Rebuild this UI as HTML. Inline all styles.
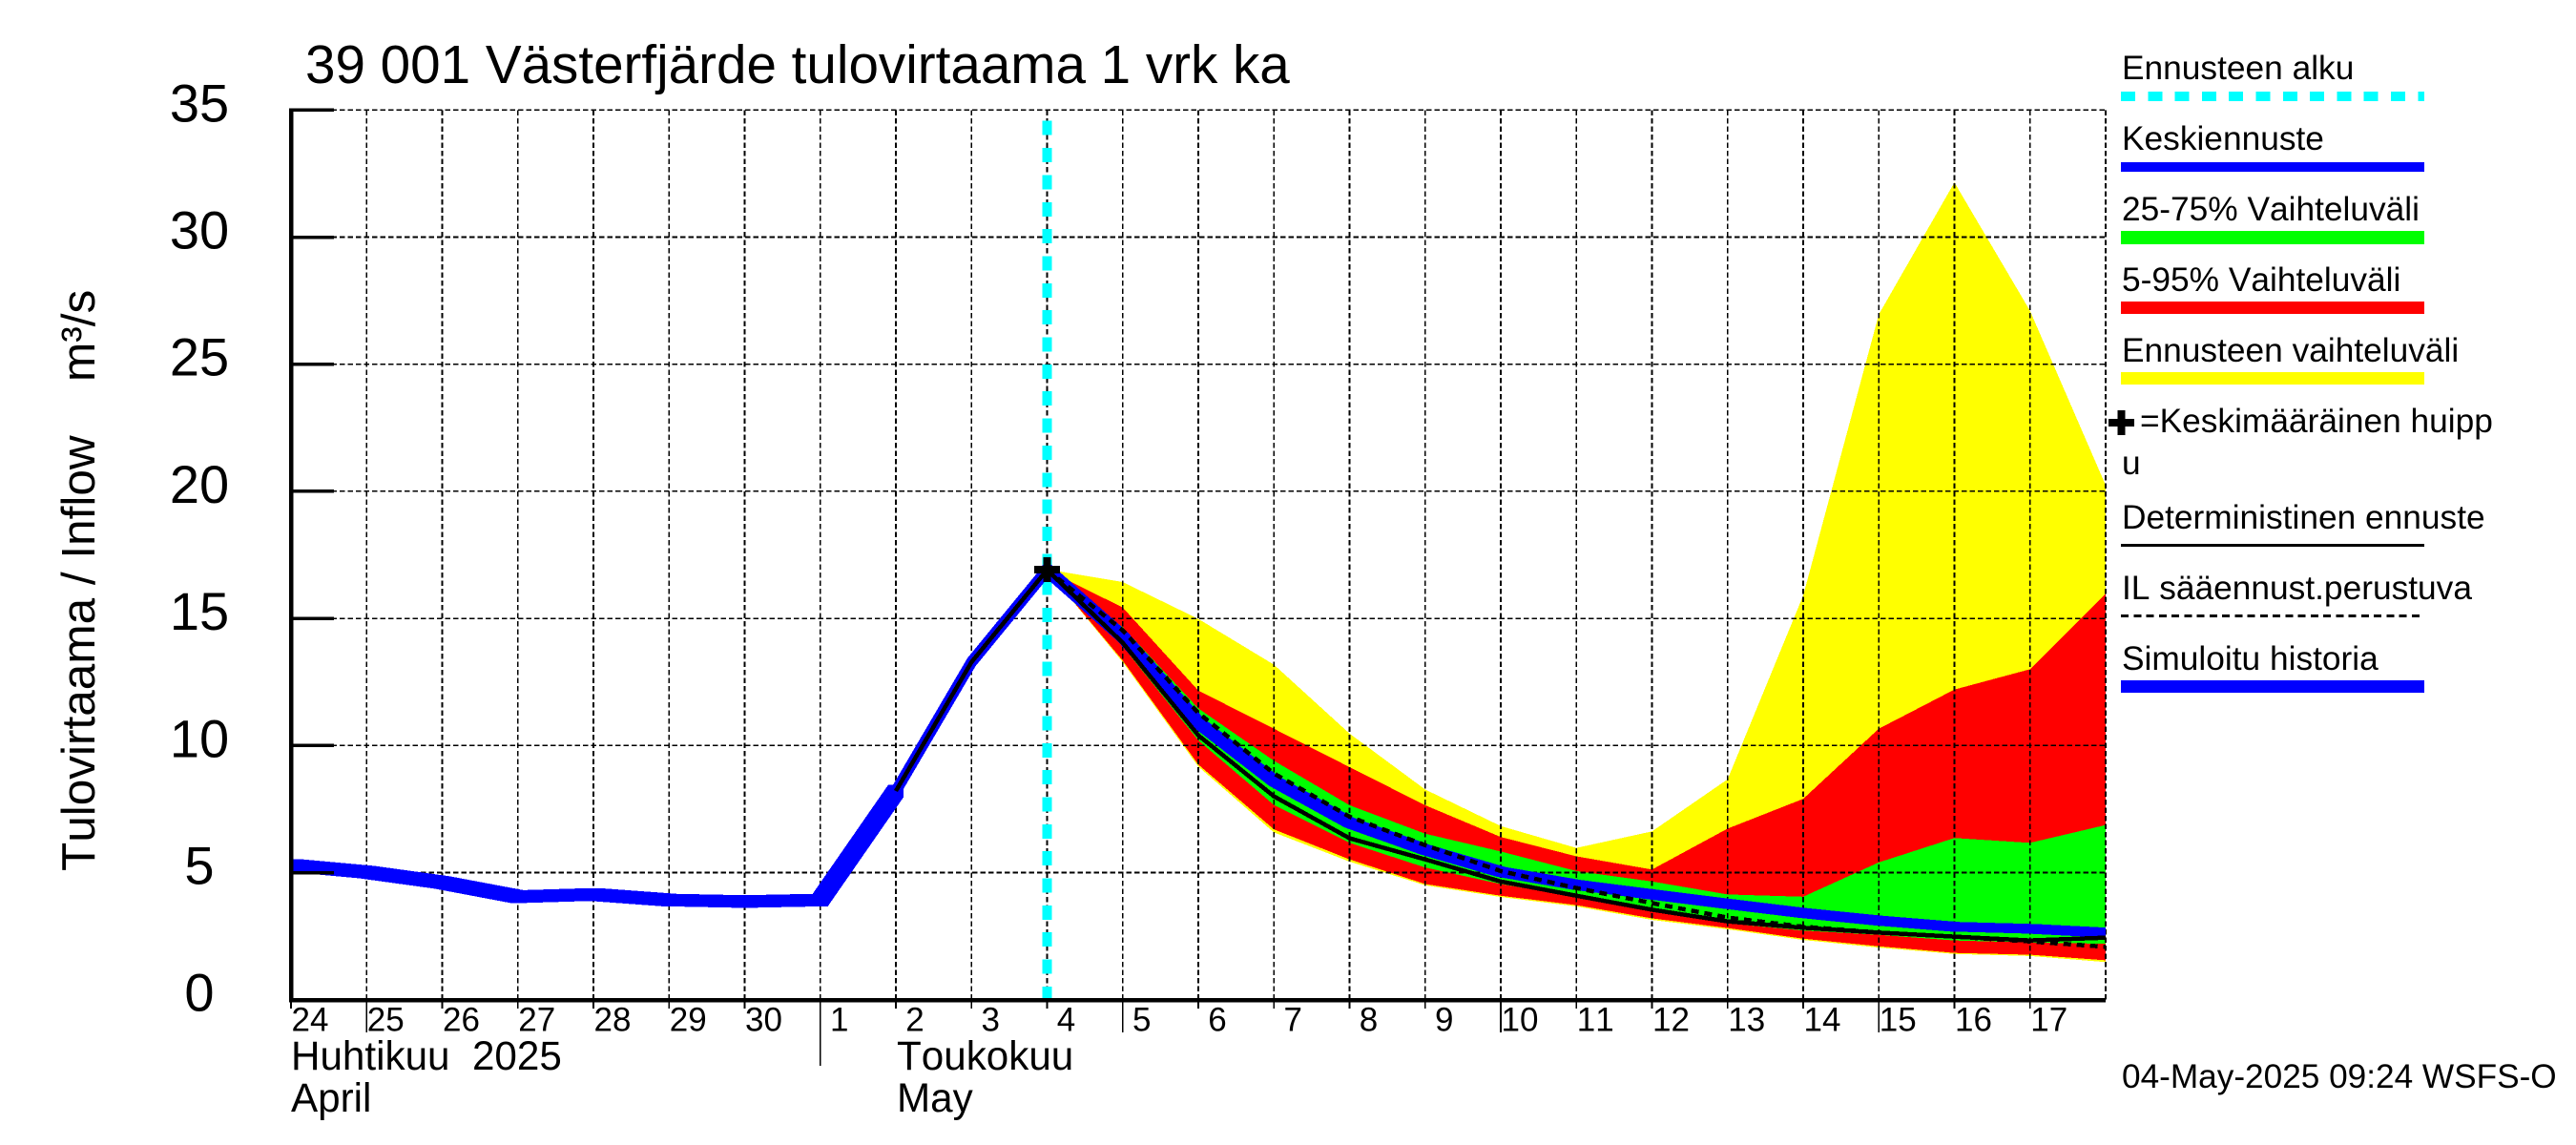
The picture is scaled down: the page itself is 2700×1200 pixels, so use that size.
<!DOCTYPE html>
<html lang="fi">
<head>
<meta charset="utf-8">
<title>39 001 Västerfjärde tulovirtaama 1 vrk ka</title>
<style>
html,body{margin:0;padding:0;background:#fff;width:2700px;height:1200px;overflow:hidden}
svg{display:block}
text{font-family:"Liberation Sans",Arial,sans-serif;fill:#000;white-space:pre;font-kerning:none}
.leg{font-size:35.3px}
</style>
</head>
<body>
<svg id="chart" xmlns="http://www.w3.org/2000/svg" width="2700" height="1200" viewBox="0 0 2700 1200">
  <defs>
    <clipPath id="plot-clip"><rect x="303" y="100" width="1904" height="960"/></clipPath>
  </defs>
  <rect x="0" y="0" width="2700" height="1200" fill="#fff"/>
  <text x="320" y="87" font-size="56.6">39 001 Västerfjärde tulovirtaama 1 vrk ka</text>
  <text transform="translate(99 913) rotate(-90)" font-size="49.5">Tulovirtaama / Inflow</text>
  <text transform="translate(99 400) rotate(-90)" font-size="49.5">m³/s</text>

  <g id="plot"></g>

  <g>
    <g>
      <text class="leg" x="2224" y="83">Ennusteen alku</text>
      <line x1="2223" y1="101" x2="2541" y2="101" stroke="#00ffff" stroke-width="10" stroke-dasharray="15 13.3" shape-rendering="crispEdges"/>
    </g>
    <g>
      <text class="leg" x="2224" y="157">Keskiennuste</text>
      <rect x="2223" y="170" width="318" height="10" fill="#0000ff"/>
    </g>
    <g>
      <text class="leg" x="2224" y="231">25-75% Vaihteluväli</text>
      <rect x="2223" y="242" width="318" height="14" fill="#00ff00"/>
    </g>
    <g>
      <text class="leg" x="2224" y="305">5-95% Vaihteluväli</text>
      <rect x="2223" y="316" width="318" height="13" fill="#ff0000"/>
    </g>
    <g>
      <text class="leg" x="2224" y="379">Ennusteen vaihteluväli</text>
      <rect x="2223" y="390" width="318" height="13" fill="#ffff00"/>
    </g>
    <g>
      <path d="M2210 439h9.500v-9h8v9h9.500v8h-9.500v9h-8v-9h-9.500z" fill="#000" shape-rendering="crispEdges"/>
      <text class="leg" x="2243" y="453">=Keskimääräinen huipp</text>
      <text class="leg" x="2224" y="497">u</text>
    </g>
    <g>
      <text class="leg" x="2224" y="554">Deterministinen ennuste</text>
      <rect x="2223" y="570" width="318" height="3" fill="#000"/>
    </g>
    <g>
      <text class="leg" x="2224" y="628">IL sääennust.perustuva</text>
      <line x1="2223" y1="645.500" x2="2541" y2="645.500" stroke="#000" stroke-width="3" stroke-dasharray="8 5.250" shape-rendering="crispEdges"/>
    </g>
    <g>
      <text class="leg" x="2224" y="702">Simuloitu historia</text>
      <rect x="2223" y="713" width="318" height="13" fill="#0000ff"/>
    </g>
  </g>

  <text x="305" y="1121" font-size="42.2">Huhtikuu  2025</text>
  <text x="305" y="1165" font-size="42.2">April</text>
  <text x="940" y="1121" font-size="42.2">Toukokuu</text>
  <text x="940" y="1165" font-size="42.2">May</text>
  <text x="2224" y="1140" font-size="35.2">04-May-2025 09:24 WSFS-O</text>
</svg>

<script>
// ---- chart data ----
const dayLabels = ['24','25','26','27','28','29','30','1','2','3','4','5','6','7','8','9','10','11','12','13','14','15','16','17'];
const longTickLabels = ['25','5','10','15'];
const monthBoundaryLabel = '1';
const yTickValues = [0,5,10,15,20,25,30,35];

const historyDays = [0,1,2,3,4,5,6,7,8];
const historyValues = [5.29,5.02,4.61,4.05,4.14,3.92,3.86,3.92,8.21];

const forecastStartDay = [10];
const peakDay = [10];
const peakValue = [16.92];

const rangeDays = [10,11,12,13,14,15,16,17,18,19,20,21,22,23,24];
const yellowUpper = [16.93,16.43,14.98,13.18,10.47,8.27,6.83,5.97,6.62,8.67,15.9,26.96,32.15,27.1,20.24];
const yellowLower = [16.9,13.28,9.17,6.58,5.43,4.5,4.04,3.67,3.14,2.77,2.35,2.05,1.8,1.72,1.48];
const redUpper = [16.9,15.43,12.16,10.66,9.15,7.65,6.4,5.64,5.12,6.73,7.9,10.66,12.2,13.0,15.97];
const redLower = [16.9,13.34,9.25,6.7,5.52,4.55,4.09,3.72,3.2,2.82,2.4,2.1,1.84,1.77,1.55];
const greenUpper = [16.9,14.66,11.46,9.4,7.65,6.53,5.83,5.06,4.65,4.14,4.05,5.4,6.36,6.17,6.87];
const greenLower = [16.9,13.9,10.2,7.66,6.17,5.2,4.55,4.03,3.47,3.0,2.72,2.55,2.33,2.25,2.2];

const meanRiseDays = [8,9,10];
const meanRiseValues = [8.21,13.28,16.91];
const meanDays = [10,11,12,13,14,15,16,17,18,19,20,21,22,23,24];
const meanValues = [16.91,14.28,10.9,8.6,6.96,5.9,5.03,4.52,4.14,3.77,3.41,3.11,2.87,2.79,2.64];

const deterministicDays = [8,9,10,11,12,13,14,15,16,17,18,19,20,21,22,23,24];
const deterministicValues = [8.21,13.28,16.91,14.04,10.4,8.0,6.35,5.52,4.65,4.09,3.54,3.08,2.83,2.64,2.48,2.33,2.44];

const weatherDays = [10,11,12,13,14,15,16,17,18,19,20,21,22,23,24];
const weatherValues = [16.91,14.53,11.28,8.9,7.2,6.08,5.06,4.39,3.8,3.23,2.87,2.64,2.48,2.29,2.08];

// ---- axis functions ----
const X0 = 305, X1 = 2207, DAY_MAX = 24;
const Y0 = 1047.7, Y35 = 115.3, V_MAX = 35;
function xAt(d){ return X0 + (X1 - X0) * d / DAY_MAX; }
function yAt(v){ return Y0 - (Y0 - Y35) * v / V_MAX; }

const NS = 'http://www.w3.org/2000/svg';
const plot = document.getElementById('plot');
function make(tag, attrs){
  const el = document.createElementNS(NS, tag);
  for (const k in attrs) el.setAttribute(k, attrs[k]);
  plot.appendChild(el);
  return el;
}
function pts(days, vals){
  return days.map((d,i) => xAt(d).toFixed(2) + ',' + yAt(vals[i]).toFixed(2));
}
function band(days, up, low){
  return pts(days, up).concat(pts(days, low).reverse()).join(' ');
}
// Path swept by a rectangular w×h pen along the series (the look of the original plotter's thick lines).
function penPath(days, vals, w, h){
  const a = w / 2, b = h / 2;
  let d = '';
  for (let i = 0; i < days.length - 1; i++) {
    const x1 = xAt(days[i]), y1 = yAt(vals[i]), x2 = xAt(days[i+1]), y2 = yAt(vals[i+1]);
    const c = y2 >= y1
      ? [[x1-a,y1-b],[x1+a,y1-b],[x2+a,y2-b],[x2+a,y2+b],[x2-a,y2+b],[x1-a,y1+b]]
      : [[x1-a,y1-b],[x2-a,y2-b],[x2+a,y2-b],[x2+a,y2+b],[x1+a,y1+b],[x1-a,y1+b]];
    d += 'M' + c.map(p => p[0].toFixed(2) + ' ' + p[1].toFixed(2)).join('L') + 'Z';
  }
  return d;
}

// ---- range bands ----
let el;
el = make('polygon', {points: band(rangeDays, yellowUpper, yellowLower), fill:'#ffff00', 'shape-rendering':'crispEdges'});


el = make('polygon', {points: band(rangeDays, redUpper, redLower), fill:'#ff0000', 'shape-rendering':'crispEdges'});


el = make('polygon', {points: band(rangeDays, greenUpper, greenLower), fill:'#00ff00', 'shape-rendering':'crispEdges'});



// ---- grid ----
yTickValues.forEach(v => {
  if (v === 0) return;
  const g = make('line', {x1:X0, x2:X1, y1:yAt(v), y2:yAt(v), stroke:'#000', 'stroke-width':1.6, 'stroke-dasharray':'5.5 3', 'shape-rendering':'crispEdges'});
  
  
});
for (let d = 1; d <= DAY_MAX; d++) {
  const g = make('line', {x1:xAt(d), x2:xAt(d), y1:Y35, y2:Y0, stroke:'#000', 'stroke-width':1.6, 'stroke-dasharray':'5.5 3', 'shape-rendering':'crispEdges'});
  
  
}

// ---- forecast start ----
el = make('line', {x1:xAt(forecastStartDay[0]), x2:xAt(forecastStartDay[0]), y1:126.7, y2:Y0, stroke:'#00ffff', 'stroke-width':10, 'stroke-dasharray':'15 13.35', 'shape-rendering':'crispEdges'});



// ---- lines ----
el = make('path', {d: penPath(historyDays, historyValues, 16, 13), fill:'#0000ff', 'clip-path':'url(#plot-clip)', 'shape-rendering':'crispEdges'});


el = make('path', {d: penPath(meanRiseDays, meanRiseValues, 8.5, 8.5), fill:'#0000ff', 'clip-path':'url(#plot-clip)', 'shape-rendering':'crispEdges'});


el = make('path', {d: penPath(meanDays, meanValues, 10, 10), fill:'#0000ff', 'clip-path':'url(#plot-clip)', 'shape-rendering':'crispEdges'});


el = make('polyline', {points: pts(deterministicDays, deterministicValues).join(' '), fill:'none', stroke:'#000', 'stroke-width':4.5, 'stroke-linejoin':'round', 'clip-path':'url(#plot-clip)', 'shape-rendering':'crispEdges'});


el = make('polyline', {points: pts(weatherDays, weatherValues).join(' '), fill:'none', stroke:'#000', 'stroke-width':4.5, 'stroke-dasharray':'8 6', 'clip-path':'url(#plot-clip)', 'shape-rendering':'crispEdges'});



// ---- peak marker ----
const px = xAt(peakDay[0]), py = yAt(peakValue[0]);
el = make('path', {d:'M'+(px-13.5)+' '+(py-4)+'h9.500v-9h8v9h9.500v8h-9.500v9h-8v-9h-9.500z', fill:'#000', 'shape-rendering':'crispEdges'});



// ---- axes ----
el = make('line', {x1:X0, x2:X0, y1:Y35-2, y2:Y0+2, stroke:'#000', 'stroke-width':4.5, 'shape-rendering':'crispEdges'});


el = make('line', {x1:X0-2, x2:X1, y1:Y0+0.3, y2:Y0+0.3, stroke:'#000', 'stroke-width':4.5, 'shape-rendering':'crispEdges'});



yTickValues.forEach(v => {
  if (v !== 0) {
    const t = make('line', {x1:X0, x2:350, y1:yAt(v), y2:yAt(v), stroke:'#000', 'stroke-width':3.5, 'shape-rendering':'crispEdges'});
    
    
  }
  const l = make('text', {x:209, y:yAt(v)+12, 'font-size':56, 'text-anchor':'middle'});
  
  
  l.textContent = String(v);
});

dayLabels.forEach((lab, d) => {
  let end = 1057;
  if (longTickLabels.includes(lab)) end = 1082;
  if (lab === monthBoundaryLabel) end = 1117;
  const t = make('line', {x1:xAt(d), x2:xAt(d), y1:Y0, y2:end, stroke:'#000', 'stroke-width':1.6, 'shape-rendering':'crispEdges'});
  
  
  const l = make('text', {x:xAt(d)+20, y:1080.5, 'font-size':35, 'text-anchor':'middle'});
  
  
  l.textContent = lab;
});
</script>
</body>
</html>
